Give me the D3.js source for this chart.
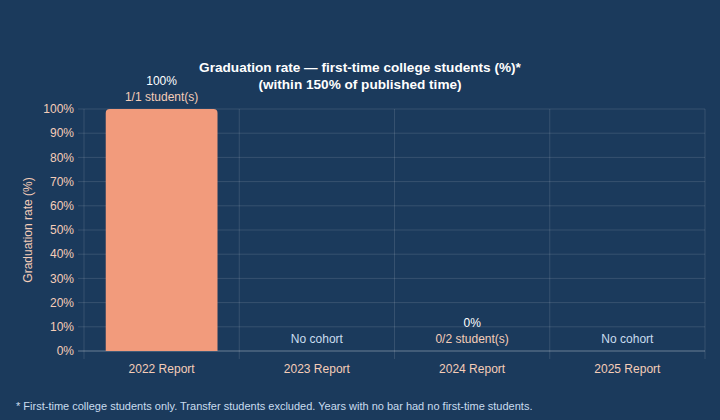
<!DOCTYPE html>
<html><head><meta charset="utf-8">
<script src="https://cdn.jsdelivr.net/npm/d3@7"></script>
<style>
html,body{margin:0;padding:0;background:#1b3a5c;}
svg{display:block;font-family:"Liberation Sans",Arial,Helvetica,sans-serif;}
</style></head>
<body>
<svg id="c" width="720" height="420"></svg>
<script>
const categories = ["2022 Report","2023 Report","2024 Report","2025 Report"];
const rates = [100, null, 0, null];
const graduated = [1, null, 0, null];
const cohort = [1, null, 2, null];
const yTicks = [0,10,20,30,40,50,60,70,80,90,100];
const titleLines = ["Graduation rate — first-time college students (%)*","(within 150% of published time)"];
const yTitle = "Graduation rate (%)";
const footnote = "* First-time college students only. Transfer students excluded. Years with no bar had no first-time students.";

const svg = d3.select("#c");
const W = 720, H = 420;
const m = {left:84, right:15, top:109, bottom:69};
const x = d3.scaleBand().domain(categories).range([m.left, W - m.right]).paddingInner(0).paddingOuter(0);
const y = d3.scaleLinear().domain([0,100]).range([H - m.bottom, m.top]);

svg.append("rect").attr("width",W).attr("height",H).attr("fill","#1b3a5c");

const gridCol = "rgba(255,255,255,0.12)";
// horizontal grid
svg.append("g").selectAll("line").data(yTicks).join("line")
  .attr("x1", m.left - 6).attr("x2", W - m.right)
  .attr("y1", d => y(d)).attr("y2", d => y(d))
  .attr("stroke", d => d === 0 ? "rgba(255,255,255,0.35)" : gridCol).attr("stroke-width",1);
// vertical grid at band boundaries
const bounds = categories.map(c => x(c)).concat([x(categories[categories.length-1]) + x.bandwidth()]);
svg.append("g").selectAll("line").data(bounds).join("line")
  .attr("x1", d => d).attr("x2", d => d)
  .attr("y1", m.top).attr("y2", H - m.bottom + 8)
  .attr("stroke", gridCol).attr("stroke-width",1);

// y tick labels
svg.append("g").selectAll("text").data(yTicks).join("text")
  .attr("x", m.left - 10).attr("y", d => y(d)).attr("dy","0.35em")
  .attr("text-anchor","end").attr("fill","#f5cdb8").attr("font-size",12)
  .text(d => d + "%");

// x labels
svg.append("g").selectAll("text").data(categories).join("text")
  .attr("x", d => x(d) + x.bandwidth()/2).attr("y", H - m.bottom + 22)
  .attr("text-anchor","middle").attr("fill","#f5cdb8").attr("font-size",12)
  .text(d => d);

// y title
svg.append("text").attr("transform",`translate(32,${(m.top + H - m.bottom)/2}) rotate(-90)`)
  .attr("text-anchor","middle").attr("fill","#f5cdb8").attr("font-size",12).text(yTitle);

// bars
const bw = x.bandwidth() * 0.72;
const r = 4;
categories.forEach((c,i) => {
  const cx = x(c) + x.bandwidth()/2;
  if (rates[i] === null) {
    svg.append("text").attr("x",cx).attr("y", y(0) - 8)
      .attr("text-anchor","middle").attr("fill","#c9dcef").attr("font-size",12).text("No cohort");
    return;
  }
  const v = rates[i];
  if (v > 0) {
    const x0 = cx - bw/2, x1 = cx + bw/2, y0 = y(0), y1 = y(v);
    svg.append("path")
      .attr("d", `M${x0},${y0}V${y1 + r}Q${x0},${y1} ${x0 + r},${y1}H${x1 - r}Q${x1},${y1} ${x1},${y1 + r}V${y0}Z`)
      .attr("fill","#f29b7c");
  }
  const top = y(v);
  svg.append("text").attr("x",cx).attr("y", top - 24)
    .attr("text-anchor","middle").attr("fill","#ffffff").attr("font-size",12).text(v + "%");
  svg.append("text").attr("x",cx).attr("y", top - 8)
    .attr("text-anchor","middle").attr("fill","#f5cdb8").attr("font-size",12)
    .text(`${graduated[i]}/${cohort[i]} student(s)`);
});

// title
titleLines.forEach((t,i) => {
  svg.append("text").attr("x", W/2).attr("y", 72 + i*17)
    .attr("text-anchor","middle").attr("fill","#ffffff").attr("font-size",13.6).attr("font-weight","bold").text(t);
});

// footnote
svg.append("text").attr("x", 16).attr("y", 410).attr("fill","#c9dcef").attr("font-size",11).text(footnote);
</script>
</body></html>
